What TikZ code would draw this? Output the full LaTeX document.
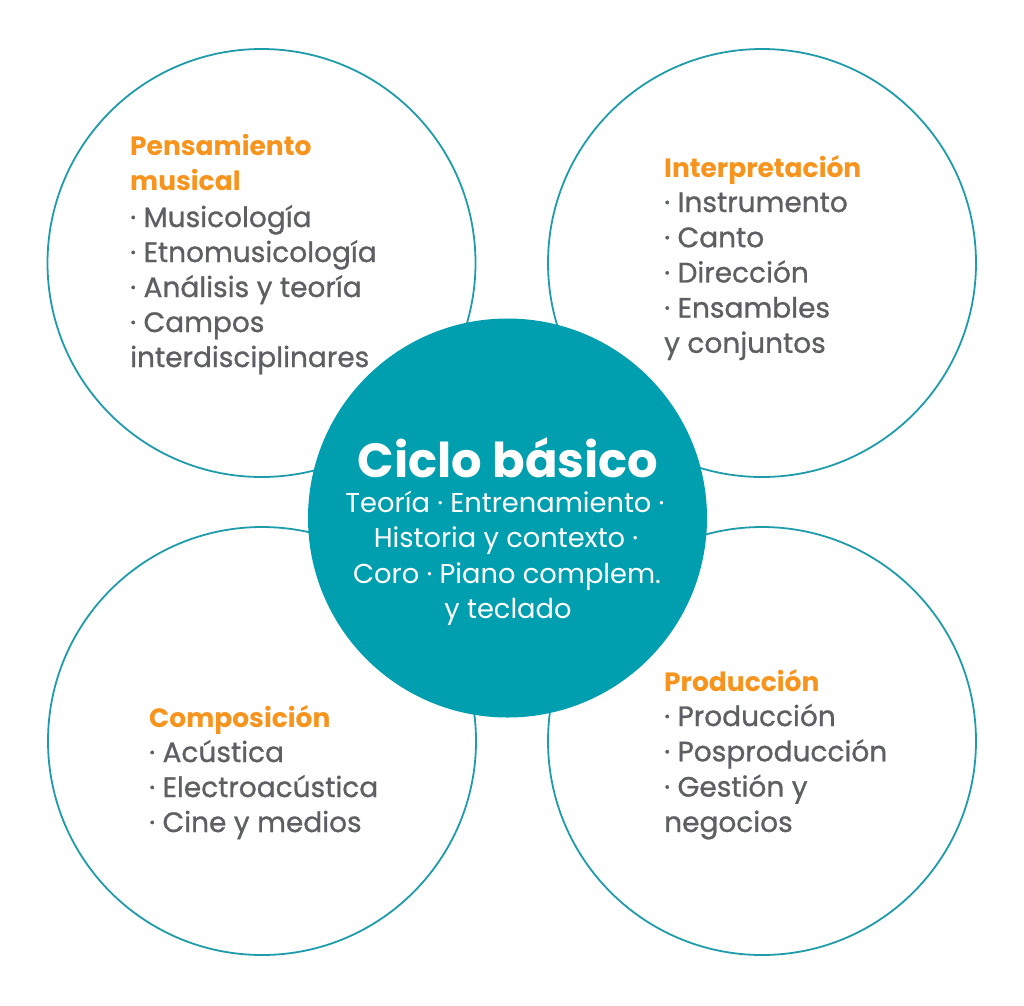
\documentclass[tikz,border=0pt]{standalone}
\usepackage{fontspec}
\setmainfont{Poppins}
\newfontfamily\medfont{Poppins}[FakeBold=0.9]
\definecolor{ringc}{HTML}{1E9CAA}
\definecolor{corec}{HTML}{009FAF}
\definecolor{headc}{HTML}{F7941D}
\definecolor{itemc}{HTML}{5E5F62}
\tikzset{
  ring/.style={circle, draw=ringc, line width=1.8pt, minimum size=428pt, inner sep=0pt},
  core/.style={circle, fill=corec, minimum size=399pt, inner sep=0pt},
  head/.style={anchor=base west, inner sep=0pt, text=headc, font=\fontsize{26.5}{30}\selectfont\bfseries},
  item/.style={anchor=base west, inner sep=0pt, text=itemc, font=\medfont\fontsize{28}{30}\selectfont},
  ctitle/.style={anchor=base, inner sep=0pt, text=white, font=\fontsize{48}{52}\selectfont\bfseries},
  cline/.style={anchor=base, inner sep=0pt, text=white, font=\fontsize{27.3}{30}\selectfont},
}
\begin{document}
\begin{tikzpicture}[x=1pt,y=-1pt]
\useasboundingbox (0,0) rectangle (1024,1005);
\fill[white] (0,0) rectangle (1024,1005);
% outer circles
\node[ring] (ctl) at (261.5,263) {};
\node[ring] (ctr) at (762,263) {};
\node[ring] (cbl) at (262,741) {};
\node[ring] (cbr) at (762,741) {};
% central circle
\node[core] (core) at (507.5,518) {};
% top-left
\node[head] (tlh1) at (130,155) {Pensamiento};
\node[head] (tlh2) at (130,190) {musical};
\foreach \t [count=\i] in {· Musicología, · Etnomusicología, · Análisis y teoría, · Campos, interdisciplinares}
  \node[item] (tli\i) at (130,{227+35*(\i-1)}) {\t};
% top-right
\node[head] (trh) at (664,177) {Interpretación};
\foreach \t [count=\i] in {· Instrumento, · Canto, · Dirección, · Ensambles, y conjuntos}
  \node[item] (tri\i) at (664,{212+35.2*(\i-1)}) {\t};
% bottom-left
\node[head] (blh) at (149,727) {Composición};
\foreach \t [count=\i] in {· Acústica, · Electroacústica, · Cine y medios}
  \node[item] (bli\i) at (149,{762+35*(\i-1)}) {\t};
% bottom-right
\node[head] (brh) at (664,691) {Producción};
\foreach \t [count=\i] in {· Producción, · Posproducción, · Gestión y, negocios}
  \node[item] (bri\i) at (664,{726+35.3*(\i-1)}) {\t};
% centre text
\node[ctitle] (ct) at (508,477) {Ciclo básico};
\node[cline] (cl1) at (505,512) {Teoría · Entrenamiento ·};
\node[cline] (cl2) at (506,547) {Historia y contexto ·};
\node[cline] (cl3) at (507,583) {Coro · Piano complem.};
\node[cline] (cl4) at (508,618) {y teclado};
\end{tikzpicture}
\end{document}
